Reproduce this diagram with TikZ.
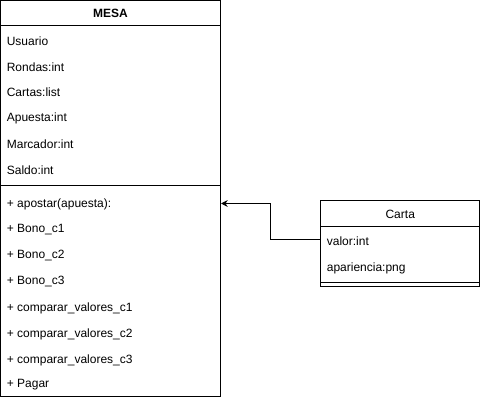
\documentclass[tikz,border=0pt]{standalone}
\usepackage{fontspec}
\setmainfont{Liberation Sans}
\usepackage{tikz}
\usetikzlibrary{positioning,arrows.meta,calc}

\begin{document}
\begin{tikzpicture}[
  x=0.75pt, y=-0.75pt,
  font=\fontsize{9}{11}\selectfont,
  line width=0.75pt,
  classbox/.style={draw=black, fill=white, inner sep=0pt},
  title/.style={font=\fontsize{9}{11}\selectfont, inner sep=1pt},
  field/.style={anchor=west, inner sep=1pt},
  link/.style={-{Stealth[length=5pt,width=5pt]}, black}
]
  \useasboundingbox (0,0) rectangle (481,402);

  % MESA
  \node[classbox, minimum width=165pt, minimum height=297pt] (mesa) at (110.5,198.5) {};
  \node[title, font=\fontsize{9}{11}\selectfont\bfseries] (mesat) at (110.5,13.5) {MESA};
  \draw ($(mesa.north west)+(0,25.5)$) -- ($(mesa.north east)+(0,25.5)$);
  \draw ($(mesa.north west)+(0,185.5)$) -- ($(mesa.north east)+(0,185.5)$);

  \node[field] (usuario)  at (5,41)  {Usuario};
  \node[field] (rondas)   at (5,67)  {Rondas:int};
  \node[field] (cartas)   at (5,92)  {Cartas:list};
  \node[field] (apuesta)  at (5,118) {Apuesta:int};
  \node[field] (marcador) at (5,144) {Marcador:int};
  \node[field] (saldo)    at (5,170) {Saldo:int};

  \node[field] (apostar) at (5,204) {+ apostar(apuesta):};
  \node[field] (bonoa)   at (5,230) {+ Bono\_c1};
  \node[field] (bonob)   at (5,256) {+ Bono\_c2};
  \node[field] (bonoc)   at (5,282) {+ Bono\_c3};
  \node[field] (compa)   at (5,308) {+ comparar\_valores\_c1};
  \node[field] (compb)   at (5,334) {+ comparar\_valores\_c2};
  \node[field] (compc)   at (5,360) {+ comparar\_valores\_c3};
  \node[field] (pagar)   at (5,385) {+ Pagar};

  % Carta
  \node[classbox, minimum width=119.6pt, minimum height=63.75pt] (carta) at (400.25,243.5) {};
  \node[title] (cartat) at (400.25,214) {Carta};
  \draw ($(carta.north west)+(0,26)$) -- ($(carta.north east)+(0,26)$);
  \draw ($(carta.south west)+(0,-4)$) -- ($(carta.south east)+(0,-4)$);

  \node[field] (valor)      at (325,241) {valor:int};
  \node[field] (apariencia) at (325,268) {apariencia:png};

  \draw[link] (carta.west |- 0,240) -- (270,240) |- (mesa.east |- 0,203.5);
\end{tikzpicture}
\end{document}
